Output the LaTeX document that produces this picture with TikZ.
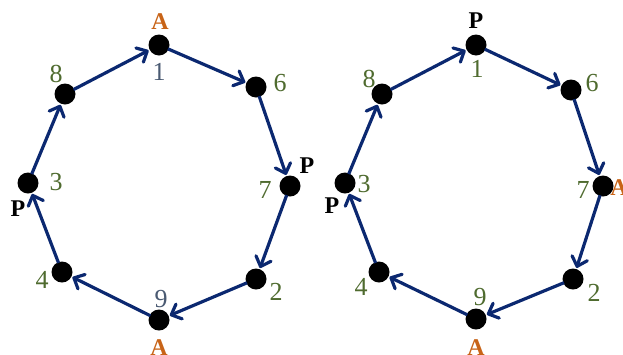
\documentclass[tikz,border=0pt]{standalone}
\usepackage{fontspec}
\setmainfont{Liberation Serif}
\usetikzlibrary{arrows.meta}
\definecolor{navy}{HTML}{0B2870}
\definecolor{lgreen}{HTML}{4F6B2F}
\definecolor{lorange}{HTML}{C86418}
\definecolor{lgrey}{HTML}{4A5A72}
\tikzset{
  dot/.style={circle,fill=black,minimum size=21pt,inner sep=0pt},
  conn/.style={draw=navy,line width=3.2pt,-{Straight Barb[length=8.5pt,width=16pt,round]},shorten >=1pt,shorten <=-1pt},
  num/.style={text=lgreen,font=\fontsize{26}{28}\selectfont,inner sep=0pt},
  gnum/.style={text=lgrey,font=\fontsize{26}{28}\selectfont,inner sep=0pt},
  lettA/.style={text=lorange,font=\fontsize{24}{26}\selectfont\bfseries,inner sep=0pt},
  lettP/.style={text=black,font=\fontsize{24}{26}\selectfont\bfseries,inner sep=0pt},
}
\begin{document}
\begin{tikzpicture}[x=1pt,y=-1pt]
\useasboundingbox (0,0) rectangle (623,354);
% left graph
\node[dot] (l1) at (159,45) {};
\node[dot] (l6) at (256,87) {};
\node[dot] (l7) at (290,186) {};
\node[dot] (l2) at (256,279) {};
\node[dot] (l9) at (159,320) {};
\node[dot] (l4) at (62,272) {};
\node[dot] (l3) at (28,183) {};
\node[dot] (l8) at (65,94) {};
\draw[conn] (l8) -- (l1);
\draw[conn] (l1) -- (l6);
\draw[conn] (l6) -- (l7);
\draw[conn] (l7) -- (l2);
\draw[conn] (l2) -- (l9);
\draw[conn] (l9) -- (l4);
\draw[conn] (l4) -- (l3);
\draw[conn] (l3) -- (l8);
\node[lettA] (lA1) at (160,22) {A};
\node[gnum] (ln1) at (159,72) {1};
\node[num] (ln8) at (56,74) {8};
\node[num] (ln6) at (280,83) {6};
\node[lettP] (lP7) at (307,166) {P};
\node[num] (ln7) at (265,190) {7};
\node[num] (ln3) at (56,182) {3};
\node[lettP] (lP3) at (18,209) {P};
\node[num] (ln4) at (42,280) {4};
\node[num] (ln2) at (276,292) {2};
\node[gnum] (ln9) at (161,299) {9};
\node[lettA] (lA9) at (159,348) {A};
% right graph
\node[dot] (r1) at (476,45) {};
\node[dot] (r6) at (571,90) {};
\node[dot] (r7) at (603,186) {};
\node[dot] (r2) at (573,279) {};
\node[dot] (r9) at (476,319) {};
\node[dot] (r4) at (379,272) {};
\node[dot] (r3) at (345,183) {};
\node[dot] (r8) at (382,94) {};
\draw[conn] (r8) -- (r1);
\draw[conn] (r1) -- (r6);
\draw[conn] (r6) -- (r7);
\draw[conn] (r7) -- (r2);
\draw[conn] (r2) -- (r9);
\draw[conn] (r9) -- (r4);
\draw[conn] (r4) -- (r3);
\draw[conn] (r3) -- (r8);
\node[lettP] (rP1) at (476,21) {P};
\node[num] (rn1) at (477,69) {1};
\node[num] (rn8) at (369,79) {8};
\node[num] (rn6) at (592,83) {6};
\node[num] (rn7) at (583,190) {7};
\node[lettA] (rA7) at (619,188) {A};
\node[num] (rn3) at (364,184) {3};
\node[lettP] (rP3) at (332,206) {P};
\node[num] (rn4) at (361,287) {4};
\node[num] (rn2) at (594,293) {2};
\node[num] (rn9) at (480,297) {9};
\node[lettA] (rA9) at (476,348) {A};
\end{tikzpicture}
\end{document}
